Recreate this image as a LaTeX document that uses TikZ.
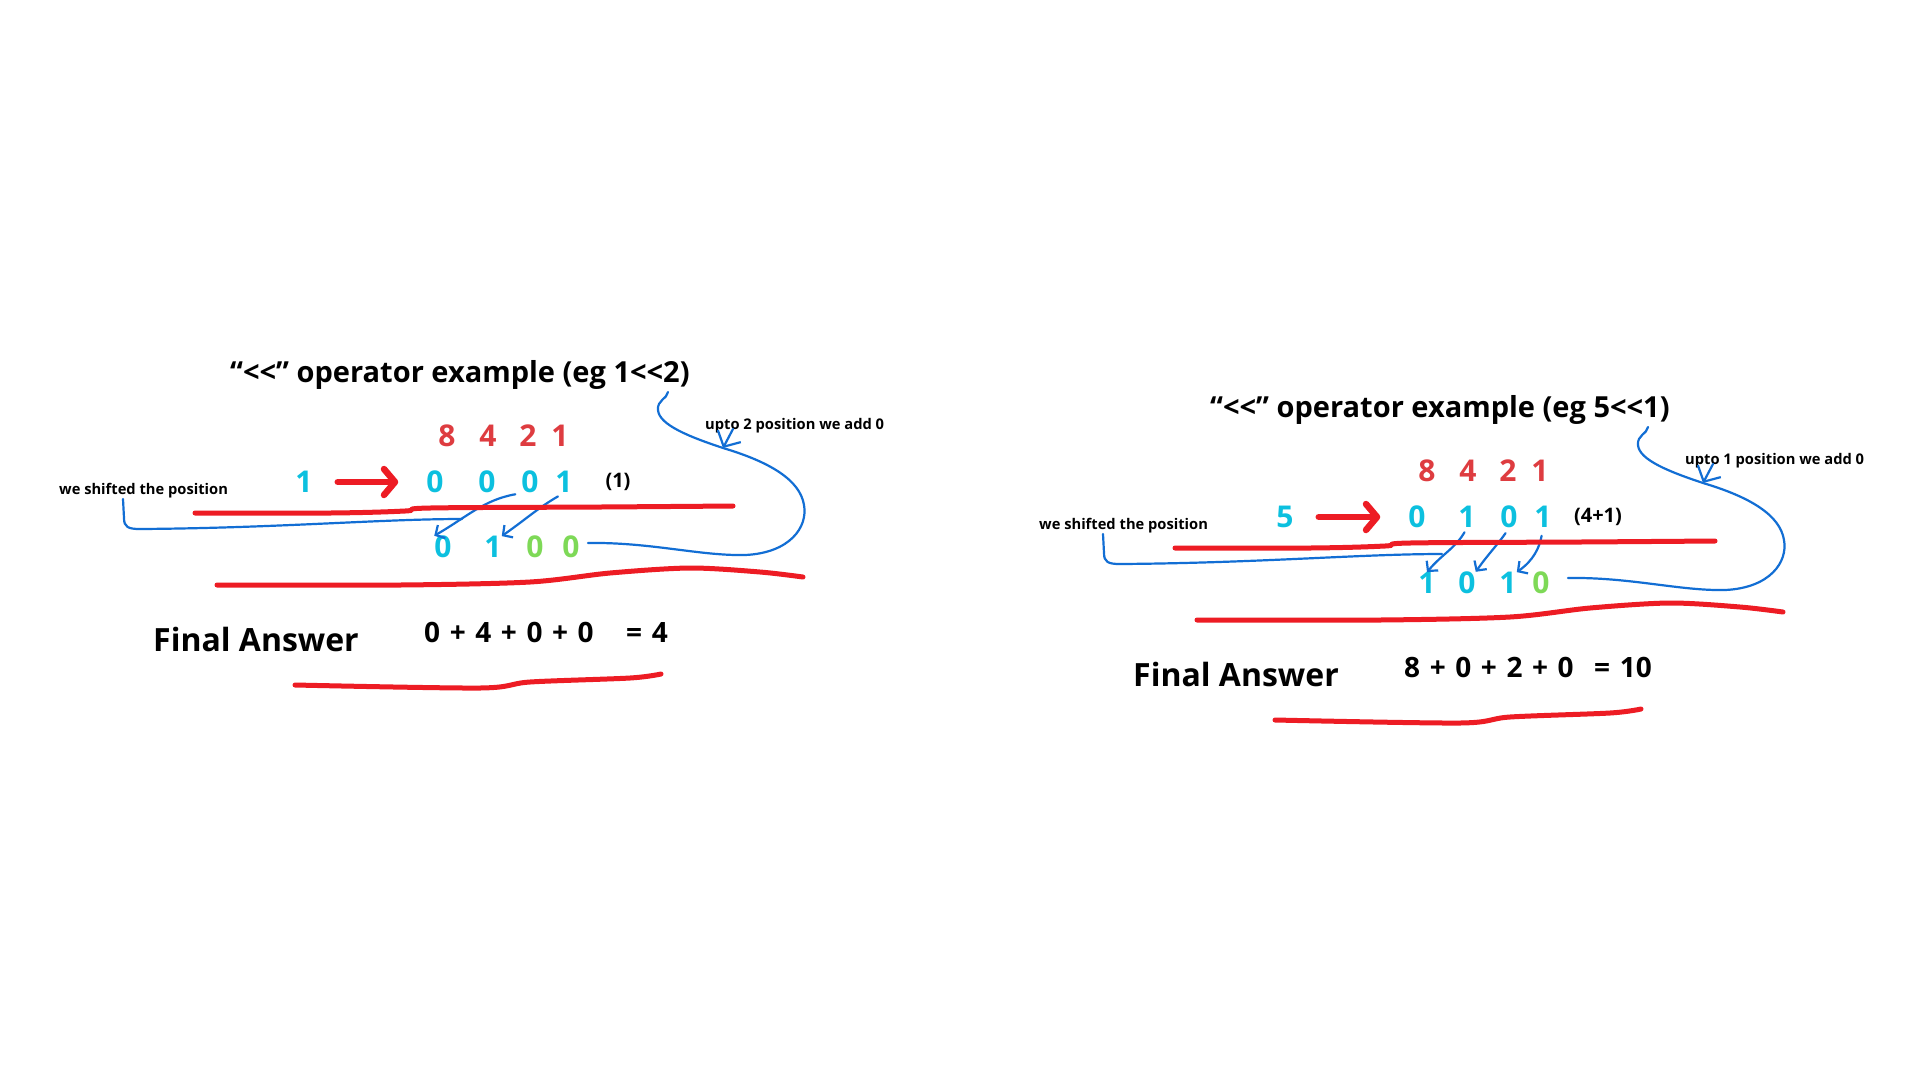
\documentclass[tikz,border=0pt]{standalone}
\usepackage{fontspec}
\setmainfont{Open Sans}
\usetikzlibrary{arrows.meta}
\definecolor{digitred}{RGB}{222,60,64}
\definecolor{penred}{RGB}{237,28,36}
\definecolor{bitcyan}{RGB}{12,192,223}
\definecolor{padgreen}{RGB}{126,217,87}
\definecolor{penblue}{RGB}{18,110,212}
\tikzset{
  heading/.style={font=\fontsize{29}{34}\selectfont\bfseries, inner sep=0pt, anchor=base west},
  remark/.style={font=\fontsize{14.7}{18}\selectfont\bfseries, inner sep=0pt, anchor=base west},
  answer/.style={font=\fontsize{32}{38}\selectfont\bfseries, inner sep=0pt, anchor=base west},
  total/.style={font=\fontsize{28}{33}\selectfont\bfseries, execute at begin node={\spaceskip=9.6pt\relax}, inner sep=0pt, anchor=base west},
  decimal/.style={font=\fontsize{20}{24}\selectfont\bfseries, inner sep=0pt},
  weight/.style={text=digitred, font=\fontsize{30}{36}\selectfont\bfseries, inner sep=0pt},
  bit/.style={text=bitcyan, font=\fontsize{30}{36}\selectfont\bfseries, inner sep=0pt},
  pad/.style={bit, text=padgreen},
  redpen/.style={draw=penred, line width=5pt, line cap=round, line join=round},
  bluepen/.style={draw=penblue, line width=2.2pt, line cap=round, line join=round},
  bluearrow/.style={bluepen, -{Straight Barb[length=7pt,width=15pt]}},
  redarrow/.style={draw=penred, line width=6.5pt, line cap=round, -{Straight Barb[length=11pt,width=26pt,round]}},
}
\begin{document}
\begin{tikzpicture}[x=1pt, y=-1pt]
    \fill[white] (0,0) rectangle (1920,1080);
    \useasboundingbox (0,0) rectangle (1920,1080);

    % left example: 1<<2
    \node[heading] (ltitle) at (230,382) {“<{}<” operator example (eg 1<{}<2)};
    \node[weight] (lw8) at (447,436) {8};
    \node[weight] (lw4) at (488,436) {4};
    \node[weight] (lw2) at (528,436) {2};
    \node[weight] (lw1) at (560,436) {1};
    \node[bit] (lsrc) at (304,482) {1};
    \node[bit] (lb1) at (435,482) {0};
    \node[bit] (lb2) at (487,482) {0};
    \node[bit] (lb3) at (530,482) {0};
    \node[bit] (lb4) at (564,482) {1};
    \node[decimal] (lval) at (618,482) {(1)};
    \node[bit] (lr1) at (443,547) {0};
    \node[bit] (lr2) at (493,547) {1};
    \node[pad] (lr3) at (535,547) {0};
    \node[pad] (lr4) at (571,547) {0};
    \node[remark] (lshift) at (59,494) {we shifted the position};
    \node[remark] (lpad) at (705,429) {upto 2 position we add 0};
    \node[answer] (lfinal) at (153,651) {Final Answer};
    \node[total] (lsum) at (424,642) {0 + 4 + 0 + 0};
    \node[total] (lres) at (626,642) {= 4};
    \coordinate (lhook) at (723,448);

    \draw[redarrow, shorten <=25pt, shorten >=28pt] (lsrc.east) -- (lb1.west);
    \draw[bluearrow, shorten <=6pt] (lb3.south west) to[out=190, in=30] (lr1.north west);
    \draw[bluearrow, shorten <=7pt] (lb4.south) to[out=210, in=35] (lr2.north east);
    \draw[redpen] plot[smooth, tension=0.6] coordinates {(195,513) (330,513) (405,511) (430,508) (600,507) (733,506)};
    \draw[redpen] plot[smooth] coordinates {(217,585) (400,585) (530,582) (610,573) (690,568) (760,572) (803,577)};
    \draw[redpen] plot[smooth] coordinates {(295,685) (480,688) (530,682) (630,678) (661,674)};
    \draw[bluepen] (123,499) -- (124,518) .. controls (124,527) and (128,529) .. (140,529) .. controls (280,528) and (380,519) .. (462,519);
    \draw[bluepen] (588,543) .. controls (650,542) and (700,556) .. (745,555) .. controls (790,553) and (808,527) .. (804,505)
        .. controls (800,480) and (770,462) .. (lhook) .. controls (690,437) and (659,425) .. (658,410) .. controls (657,400) and (667,399) .. (668,392);
    \draw[bluepen, -{Straight Barb[length=12pt,width=26pt]}] ([xshift=28pt]lpad.base west) -- (lhook);

    % right example: 5<<1
    \begin{scope}[shift={(980,35)}]
    \node[heading] (rtitle) at (230,382) {“<{}<” operator example (eg 5<{}<1)};
    \node[weight] (rw8) at (447,436) {8};
    \node[weight] (rw4) at (488,436) {4};
    \node[weight] (rw2) at (528,436) {2};
    \node[weight] (rw1) at (560,436) {1};
    \node[bit] (rsrc) at (305,482) {5};
    \node[bit] (rb1) at (437,482) {0};
    \node[bit] (rb2) at (487,482) {1};
    \node[bit] (rb3) at (529,482) {0};
    \node[bit] (rb4) at (563,482) {1};
    \node[decimal] (rval) at (618,482) {(4+1)};
    \node[bit] (rr1) at (447,548) {1};
    \node[bit] (rr2) at (487,548) {0};
    \node[bit] (rr3) at (528,548) {1};
    \node[pad] (rr4) at (561,548) {0};
    \node[remark] (rshift) at (59,494) {we shifted the position};
    \node[remark] (rpad) at (705,429) {upto 1 position we add 0};
    \node[answer] (rfinal) at (153,651) {Final Answer};
    \node[total] (rsum) at (424,642) {8 + 0 + 2 + 0};
    \node[total] (rres) at (614,642) {= 10};
    \coordinate (rhook) at (723,448);

    \draw[redarrow, shorten <=25pt, shorten >=28pt] (rsrc.east) -- (rb1.west);
    \draw[bluearrow, shorten <=5pt] (rb2.south) to[out=240, in=50] (rr1.north);
    \draw[bluearrow, shorten <=6pt] (rb3.south) to[out=235, in=55] (rr2.north east);
    \draw[bluearrow, shorten <=8pt] (rb4.south) to[out=260, in=35] (rr3.north east);
    \draw[redpen] plot[smooth, tension=0.6] coordinates {(195,513) (330,513) (405,511) (430,508) (600,507) (735,506)};
    \draw[redpen] plot[smooth] coordinates {(217,585) (400,585) (530,582) (610,573) (690,568) (760,572) (803,577)};
    \draw[redpen] plot[smooth] coordinates {(295,685) (480,688) (530,682) (630,678) (661,674)};
    \draw[bluepen] (123,499) -- (124,518) .. controls (124,527) and (128,529) .. (140,529) .. controls (280,528) and (380,519) .. (462,519);
    \draw[bluepen] (588,543) .. controls (650,542) and (700,556) .. (745,555) .. controls (790,553) and (808,527) .. (804,505)
        .. controls (800,480) and (770,462) .. (rhook) .. controls (690,437) and (659,425) .. (658,410) .. controls (657,400) and (667,399) .. (668,392);
    \draw[bluepen, -{Straight Barb[length=12pt,width=26pt]}] ([xshift=28pt]rpad.base west) -- (rhook);
    \end{scope}
\end{tikzpicture}
\end{document}
